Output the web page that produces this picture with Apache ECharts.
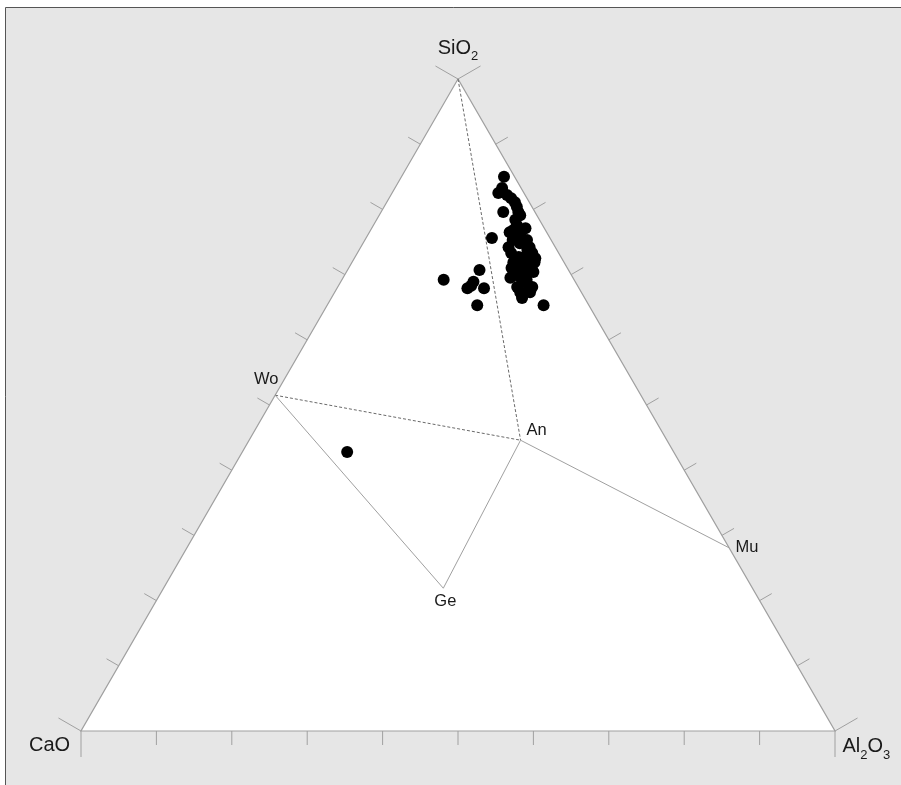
<!DOCTYPE html>
<html><head><meta charset="utf-8">
<script src="https://cdn.jsdelivr.net/npm/echarts@6/dist/echarts.min.js"></script>
<style>html,body{margin:0;padding:0;background:#fff}#c{width:901px;height:785px}</style>
</head><body><div id="c"></div>
<script>
// Sample compositions (wt %)
const sio2 = [85.0,82.5,83.3,82.2,81.7,81.1,80.4,79.6,79.6,79.1,75.6,74.2,76.8,77.1,76.1,74.2,73.3,74.8,72.7,71.8,70.7,70.4,69.5,68.1,68.1,66.9,67.3,65.3,70.7,69.9,69.2,69.2,70.7,68.9,67.9,67.9,65.3,68.3,42.8,78.4,77.6,75.3,73.8,72.7,71.8,70.4,68.9,67.6,71.9,75.3,67.3,72.5,73.3,76.5,66.4,71.0,75.3,71.9];
const al2o3 = [13.6,14.1,14.2,15.4,16.2,17.0,17.6,18.2,16.2,18.7,16.7,19.6,18.9,20.4,20.2,22.4,23.2,20.8,21.7,22.8,24.5,24.8,22.2,23.8,25.8,25.0,24.6,28.7,22.9,22.9,24.5,13.5,17.5,17.6,17.3,19.5,19.9,17.6,13.9,18.4,19.0,21.0,22.3,22.5,23.4,23.7,24.1,25.5,21.4,19.6,25.9,24.0,20.4,18.6,25.3,21.6,21.5,24.2];
const cao = [1.4,3.4,2.5,2.4,2.1,1.9,2.0,2.2,4.2,2.2,7.7,6.2,4.3,2.5,3.7,3.4,3.5,4.4,5.6,5.4,4.8,4.8,8.3,8.1,6.1,8.1,8.1,6.0,6.4,7.2,6.3,17.3,11.8,13.5,14.8,12.6,14.8,14.1,43.3,3.2,3.4,3.7,3.9,4.8,4.8,5.9,7.0,6.9,6.7,5.1,6.8,3.5,6.3,4.9,8.3,7.4,3.2,3.9];

// Reference phases
const phaseNames = ['SiO2','Wo','An','Ge','Mu'];
const phaseSiO2  = [100, 51.5, 44.6, 21.9, 28.1];
const phaseAl2O3 = [0,   0,    36.0, 37.1, 71.9];
const phaseCaO   = [0,   48.5, 19.4, 41.0, 0];
const phaseLabels = ['', 'Wo', 'An', 'Ge', 'Mu'];
const phaseLabelOffsets = [[0,0],[-9,-16],[16,-10],[2,13],[18,0]];

// Tie lines
const dashedTies = [['SiO2','An'],['Wo','An']];
const solidTies = [['Wo','Ge'],['Ge','An'],['An','Mu']];

// Apices
const apexNames = ['SiO2','CaO','Al2O3'];
const apexSiO2  = [100, 0, 0];
const apexAl2O3 = [0, 0, 100];
const apexCaO   = [0, 100, 0];

const tickValues = [0,10,20,30,40,50,60,70,80,90,100];

const S3 = Math.sqrt(3) / 2;
function toXY(s, a, c) {
  const t = s + a + c;
  const S = s / t * 100, A = a / t * 100;
  return [A + S / 2, S * S3];
}
function phaseXY(name) {
  const i = phaseNames.indexOf(name);
  return toXY(phaseSiO2[i], phaseAl2O3[i], phaseCaO[i]);
}

const samples = sio2.map((s, i) => toXY(s, al2o3[i], cao[i]));

const tickData = [];
[0,1,2].forEach(e => tickValues.forEach(v => tickData.push([e, v])));

const GRAY = '#a0a0a0';
const FONT = '"Liberation Sans", Arial, sans-serif';

const series = [];
// triangle fill + outline
series.push({
  type: 'custom', coordinateSystem: 'cartesian2d', z: 1, silent: true,
  data: [[0, 0]],
  renderItem: (params, api) => {
    const pts = [0,1,2].map(i => api.coord(toXY(apexSiO2[i], apexAl2O3[i], apexCaO[i])));
    return { type: 'polygon', shape: { points: pts }, style: { fill: '#ffffff', stroke: GRAY, lineWidth: 1.2 } };
  }
});
// ticks
series.push({
  type: 'custom', coordinateSystem: 'cartesian2d', z: 2, silent: true,
  data: tickData,
  renderItem: (params, api) => {
    const e = api.value(0), v = api.value(1);
    let comp, dir;
    if (e === 0) { comp = [0, v, 100 - v]; dir = [0, 1]; }
    else if (e === 1) { comp = [v, 0, 100 - v]; dir = [-0.866, -0.5]; }
    else { comp = [v, 100 - v, 0]; dir = [0.866, -0.5]; }
    const p = api.coord(toXY(comp[0], comp[1], comp[2]));
    const len = (v === 0 || v === 100) ? 26 : 14;
    return { type: 'line', shape: { x1: p[0], y1: p[1], x2: p[0] + dir[0] * len, y2: p[1] + dir[1] * len },
      style: { stroke: GRAY, lineWidth: 1 } };
  }
});
// tie lines
dashedTies.forEach(t => series.push({
  type: 'line', data: t.map(phaseXY), symbol: 'none', z: 3, silent: true,
  lineStyle: { color: '#6a6a6a', width: 1, type: [3, 2] }
}));
solidTies.forEach(t => series.push({
  type: 'line', data: t.map(phaseXY), symbol: 'none', z: 3, silent: true,
  lineStyle: { color: GRAY, width: 1 }
}));
// phase labels
series.push({
  type: 'custom', coordinateSystem: 'cartesian2d', z: 5, silent: true,
  data: phaseNames.map((n, i) => phaseXY(n).concat([i])),
  renderItem: (params, api) => {
    const i = api.value(2);
    if (!phaseLabels[i]) return null;
    const p = api.coord([api.value(0), api.value(1)]);
    const o = phaseLabelOffsets[i];
    return { type: 'text', x: p[0] + o[0], y: p[1] + o[1],
      style: { text: phaseLabels[i], fill: '#1a1a1a', font: '16.5px ' + FONT, align: 'center', verticalAlign: 'middle' } };
  }
});
// apex labels
const apexText = ['{m|SiO}{s|2}', '{m|CaO}', '{m|Al}{s|2}{m|O}{s|3}'];
const apexAlign = ['center', 'center', 'left'];
const apexOffsets = [[0, -31], [-31.5, 14.5], [7.5, 15.5]];
series.push({
  type: 'custom', coordinateSystem: 'cartesian2d', z: 5, silent: true,
  data: apexNames.map((n, i) => toXY(apexSiO2[i], apexAl2O3[i], apexCaO[i]).concat([i])),
  renderItem: (params, api) => {
    const i = api.value(2);
    const p = api.coord([api.value(0), api.value(1)]);
    const o = apexOffsets[i];
    return { type: 'text', x: p[0] + o[0], y: p[1] + o[1],
      style: { text: apexText[i], align: apexAlign[i], verticalAlign: 'middle', fill: '#1a1a1a',
        rich: {
          m: { fontSize: 20, fontFamily: FONT, lineHeight: 20, verticalAlign: 'top', fill: '#1a1a1a' },
          s: { fontSize: 13, fontFamily: FONT, lineHeight: 13, padding: [12, 0, 0, 0], verticalAlign: 'top', fill: '#1a1a1a' }
        } } };
  }
});
// samples
series.push({
  type: 'scatter', data: samples, symbol: 'circle', symbolSize: 12, z: 6, silent: true,
  itemStyle: { color: '#000000', opacity: 1 }, clip: false
});

const chart = echarts.init(document.getElementById('c'), null, { renderer: 'canvas' });
chart.setOption({
  animation: false,
  backgroundColor: '#ffffff',
  graphic: [{ type: 'rect', z: -10, shape: { x: 5.5, y: 7.5, width: 900, height: 790 },
    style: { fill: '#e6e6e6', stroke: '#555555', lineWidth: 1 } }],
  grid: { left: 81, top: 79, width: 754, height: 652 },
  xAxis: { type: 'value', min: 0, max: 100, show: false },
  yAxis: { type: 'value', min: 0, max: 100 * S3, show: false },
  series: series
});
</script></body></html>
